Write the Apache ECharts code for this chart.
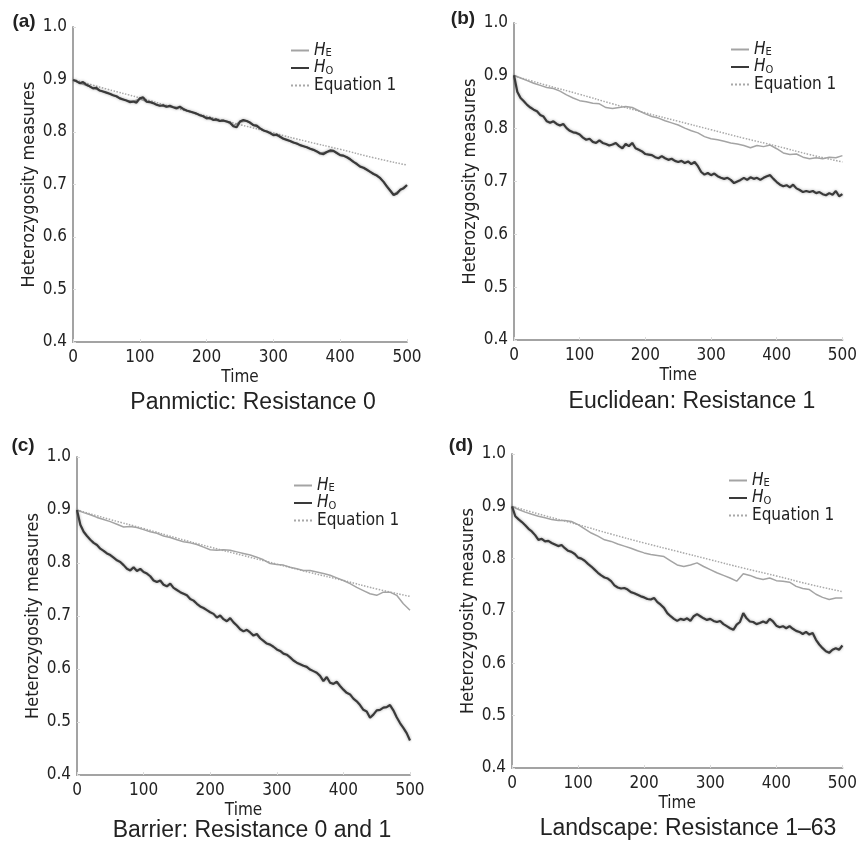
<!DOCTYPE html>
<html>
<head>
<meta charset="utf-8">
<script src="https://cdn.jsdelivr.net/npm/echarts@6/dist/echarts.min.js"></script>
<style>
  html, body { margin: 0; padding: 0; background: #fff; }
  #chart-container { width: 860px; height: 843px; }
</style>
</head>
<body>
<div id="chart-container"></div>
<script>
// time steps: HE read every 10, HO every 5, Equation 1 every 50
var heStep = 10;
var hoStep = 5;
var eqTime = [0, 50, 100, 150, 200, 250, 300, 350, 400, 450, 500];
var eqValues = [0.900, 0.882, 0.865, 0.847, 0.830, 0.814, 0.798, 0.782, 0.767, 0.751, 0.737];

var tickLabelsX = [0, 100, 200, 300, 400, 500];

var heA = [0.899, 0.893, 0.889, 0.884, 0.879, 0.875, 0.870, 0.865, 0.860, 0.858, 0.863,
  0.858, 0.855, 0.850, 0.848, 0.847, 0.847, 0.841, 0.837, 0.832, 0.827,
  0.823, 0.821, 0.820, 0.812, 0.819, 0.821, 0.813, 0.807, 0.801, 0.795,
  0.791, 0.785, 0.780, 0.775, 0.771, 0.766, 0.760, 0.762, 0.763, 0.756,
  0.752, 0.743, 0.734, 0.728, 0.720, 0.712, 0.697, 0.681, 0.690, 0.698];
var hoA = [0.899, 0.897, 0.893, 0.895, 0.890, 0.887, 0.883, 0.884, 0.879, 0.877,
  0.875, 0.873, 0.870, 0.868, 0.864, 0.862, 0.860, 0.857, 0.858, 0.856,
  0.864, 0.866, 0.858, 0.857, 0.855, 0.852, 0.850, 0.851, 0.848, 0.850,
  0.847, 0.845, 0.848, 0.844, 0.841, 0.839, 0.837, 0.835, 0.832, 0.830,
  0.826, 0.827, 0.823, 0.824, 0.821, 0.822, 0.820, 0.818, 0.811, 0.809,
  0.820, 0.823, 0.821, 0.818, 0.813, 0.812, 0.807, 0.803, 0.801, 0.798,
  0.794, 0.795, 0.791, 0.787, 0.785, 0.783, 0.780, 0.778, 0.775, 0.773,
  0.771, 0.768, 0.766, 0.763, 0.759, 0.758, 0.762, 0.765, 0.764, 0.760,
  0.756, 0.755, 0.752, 0.748, 0.743, 0.739, 0.734, 0.732, 0.728, 0.724,
  0.720, 0.717, 0.712, 0.705, 0.696, 0.688, 0.680, 0.683, 0.690, 0.693,
  0.699];

var heB = [0.901, 0.896, 0.891, 0.886, 0.882, 0.878, 0.876, 0.871, 0.864, 0.858, 0.853,
  0.851, 0.848, 0.847, 0.840, 0.838, 0.840, 0.842, 0.840, 0.834, 0.828,
  0.823, 0.820, 0.815, 0.811, 0.807, 0.801, 0.796, 0.792, 0.785, 0.781,
  0.779, 0.776, 0.773, 0.771, 0.768, 0.764, 0.768, 0.766, 0.769, 0.762,
  0.754, 0.751, 0.752, 0.746, 0.743, 0.745, 0.743, 0.746, 0.745, 0.749];
var hoB = [0.901, 0.870, 0.858, 0.852, 0.845, 0.840, 0.836, 0.833, 0.826, 0.823,
  0.814, 0.811, 0.814, 0.809, 0.806, 0.809, 0.801, 0.796, 0.793, 0.792,
  0.789, 0.783, 0.779, 0.781, 0.775, 0.773, 0.778, 0.773, 0.771, 0.768,
  0.770, 0.773, 0.767, 0.763, 0.771, 0.767, 0.773, 0.763, 0.760, 0.757,
  0.752, 0.751, 0.750, 0.746, 0.744, 0.748, 0.744, 0.741, 0.743, 0.739,
  0.737, 0.739, 0.735, 0.738, 0.733, 0.737, 0.729, 0.718, 0.713, 0.716,
  0.712, 0.715, 0.710, 0.707, 0.705, 0.707, 0.703, 0.697, 0.700, 0.703,
  0.707, 0.703, 0.708, 0.705, 0.707, 0.703, 0.707, 0.710, 0.712, 0.705,
  0.699, 0.694, 0.691, 0.693, 0.689, 0.694, 0.687, 0.684, 0.680, 0.682,
  0.680, 0.682, 0.678, 0.680, 0.676, 0.674, 0.678, 0.675, 0.682, 0.672,
  0.676];

var heC = [0.900, 0.895, 0.891, 0.886, 0.882, 0.878, 0.873, 0.868, 0.869, 0.867, 0.863,
  0.859, 0.856, 0.851, 0.848, 0.844, 0.840, 0.838, 0.835, 0.830, 0.825,
  0.824, 0.825, 0.824, 0.821, 0.818, 0.815, 0.811, 0.806, 0.799, 0.797,
  0.796, 0.792, 0.789, 0.786, 0.786, 0.783, 0.780, 0.777, 0.772, 0.767,
  0.761, 0.754, 0.748, 0.742, 0.739, 0.745, 0.745, 0.739, 0.723, 0.711];
var hoC = [0.900, 0.872, 0.859, 0.851, 0.844, 0.838, 0.834, 0.827, 0.823, 0.818,
  0.815, 0.810, 0.805, 0.802, 0.796, 0.789, 0.786, 0.792, 0.785, 0.789,
  0.783, 0.780, 0.775, 0.767, 0.764, 0.767, 0.759, 0.756, 0.761, 0.753,
  0.749, 0.745, 0.742, 0.739, 0.732, 0.729, 0.723, 0.718, 0.715, 0.711,
  0.707, 0.704, 0.697, 0.701, 0.694, 0.690, 0.696, 0.688, 0.682, 0.675,
  0.671, 0.674, 0.669, 0.663, 0.666, 0.658, 0.653, 0.648, 0.646, 0.642,
  0.637, 0.634, 0.629, 0.627, 0.622, 0.616, 0.612, 0.609, 0.606, 0.604,
  0.599, 0.596, 0.593, 0.587, 0.577, 0.585, 0.574, 0.572, 0.576, 0.568,
  0.561, 0.555, 0.552, 0.544, 0.539, 0.532, 0.523, 0.520, 0.508, 0.514,
  0.522, 0.523, 0.527, 0.528, 0.532, 0.522, 0.509, 0.498, 0.489, 0.479,
  0.465];

var heD = [0.900, 0.894, 0.889, 0.885, 0.881, 0.878, 0.875, 0.873, 0.873, 0.871, 0.865,
  0.857, 0.849, 0.843, 0.836, 0.833, 0.828, 0.824, 0.820, 0.815, 0.811,
  0.808, 0.806, 0.804, 0.796, 0.788, 0.785, 0.788, 0.792, 0.785, 0.779,
  0.773, 0.768, 0.763, 0.757, 0.771, 0.768, 0.763, 0.760, 0.763, 0.758,
  0.757, 0.755, 0.747, 0.743, 0.741, 0.732, 0.726, 0.722, 0.725, 0.725];
var hoD = [0.900, 0.881, 0.875, 0.870, 0.864, 0.857, 0.852, 0.845, 0.836, 0.838,
  0.833, 0.834, 0.830, 0.827, 0.824, 0.826, 0.820, 0.815, 0.813, 0.809,
  0.802, 0.800, 0.796, 0.790, 0.785, 0.779, 0.773, 0.768, 0.764, 0.762,
  0.757, 0.749, 0.745, 0.743, 0.744, 0.741, 0.736, 0.734, 0.731, 0.728,
  0.726, 0.723, 0.722, 0.725, 0.717, 0.712, 0.706, 0.696, 0.690, 0.685,
  0.681, 0.685, 0.683, 0.686, 0.681, 0.690, 0.694, 0.690, 0.686, 0.683,
  0.685, 0.681, 0.679, 0.681, 0.675, 0.671, 0.667, 0.664, 0.674, 0.679,
  0.696, 0.686, 0.680, 0.679, 0.675, 0.677, 0.680, 0.677, 0.685, 0.680,
  0.672, 0.669, 0.671, 0.667, 0.671, 0.666, 0.662, 0.660, 0.656, 0.660,
  0.655, 0.658, 0.645, 0.636, 0.629, 0.623, 0.620, 0.626, 0.629, 0.626,
  0.634];

var tags = ['(a)', '(b)', '(c)', '(d)'];
var titles = ['Panmictic: Resistance 0', 'Euclidean: Resistance 1',
  'Barrier: Resistance 0 and 1', 'Landscape: Resistance 1\u201363'];
var heSeries = [heA, heB, heC, heD];
var hoSeries = [hoA, hoB, hoC, hoD];

// layout per panel
var layout = [
  { grid: { left: 73, top: 27, width: 334, height: 315 }, legend: [290, 42], tag: [24, 22], title: [253, 403] },
  { grid: { left: 514, top: 23, width: 333, height: 317 }, legend: [730, 41], tag: [463, 19], title: [692, 402] },
  { grid: { left: 77, top: 457, width: 333, height: 318 }, legend: [293, 477], tag: [23, 446], title: [252, 831] },
  { grid: { left: 512, top: 454, width: 334, height: 314 }, legend: [728, 472], tag: [461, 446], title: [688, 829] }
];

var FONT = "'DejaVu Sans Condensed', 'DejaVu Sans', sans-serif";
var TITLE_FONT = "'Liberation Sans', Arial, sans-serif";
var NONE = 'rgba(0,0,0,0)';

function pairs(values, step) {
  return values.map(function (v, i) { return [i * step, v]; });
}

var grids = [], xAxes = [], yAxes = [], legends = [], series = [], graphics = [];

layout.forEach(function (p, i) {
  grids.push(p.grid);
  xAxes.push({
    gridIndex: i, type: 'value', min: 0, max: 500, interval: 100,
    name: 'Time', nameLocation: 'middle', nameGap: 27,
    nameTextStyle: { fontSize: 17, fontFamily: FONT, color: '#222' },
    axisLine: { lineStyle: { color: '#a3a3a3', width: 2 } },
    axisTick: { show: true, inside: true, length: 3, lineStyle: { color: '#dcdcdc' } },
    axisLabel: { fontSize: 17, fontFamily: FONT, color: '#222', margin: 7,
      formatter: function (v) { return tickLabelsX.indexOf(v) >= 0 ? String(v) : ''; } },
    splitLine: { show: false }
  });
  yAxes.push({
    gridIndex: i, type: 'value', min: 0.4, max: 1.0, interval: 0.1,
    name: 'Heterozygosity measures', nameLocation: 'middle', nameGap: 33,
    nameTextStyle: { fontSize: 18, fontFamily: FONT, color: '#222' },
    axisLine: { show: true, lineStyle: { color: '#a3a3a3', width: 2 } },
    axisTick: { show: true, inside: true, length: 3, lineStyle: { color: '#dcdcdc' } },
    axisLabel: { fontSize: 17, fontFamily: FONT, color: '#222', margin: 6,
      formatter: function (v) { return v.toFixed(1); } },
    splitLine: { show: false }
  });
  legends.push({
    left: p.legend[0], top: p.legend[1], orient: 'vertical',
    data: ['HE', 'HO', 'Equation 1'],
    itemWidth: 18, itemHeight: 10, itemGap: 0.5, padding: 0,
    selectedMode: false,
    itemStyle: { opacity: 0 },
    formatter: function (name) {
      if (name === 'HE') return '{i|H}{s|E}';
      if (name === 'HO') return '{i|H}{s|O}';
      return name;
    },
    textStyle: {
      fontSize: 17, fontFamily: FONT, color: '#222', lineHeight: 17,
      rich: {
        i: { fontSize: 17, fontFamily: FONT, fontStyle: 'italic', color: '#222', lineHeight: 17 },
        s: { fontSize: 11, fontFamily: FONT, color: '#222', lineHeight: 7, verticalAlign: 'bottom' }
      }
    }
  });
  series.push({
    name: 'HE', type: 'line', xAxisIndex: i, yAxisIndex: i, symbol: 'none', z: 3,
    data: pairs(heSeries[i], heStep),
    lineStyle: { color: '#a4a4a4', width: 1.5 }, itemStyle: { color: NONE }
  });
  series.push({
    name: 'HO', type: 'line', xAxisIndex: i, yAxisIndex: i, symbol: 'none', z: 4,
    data: pairs(hoSeries[i], hoStep),
    lineStyle: { color: '#3a3a3a', width: 2.2, shadowBlur: 3, shadowColor: 'rgba(0,0,0,0.35)' },
    itemStyle: { color: NONE }
  });
  series.push({
    name: 'Equation 1', type: 'line', xAxisIndex: i, yAxisIndex: i, symbol: 'none', z: 2,
    smooth: true,
    data: eqTime.map(function (t, k) { return [t, eqValues[k]]; }),
    lineStyle: { color: '#a8a8a8', width: 1.5, type: 'dotted' }, itemStyle: { color: NONE }
  });
  graphics.push({
    type: 'text', x: p.tag[0], y: p.tag[1],
    style: { text: tags[i], font: 'bold 19px ' + TITLE_FONT, fill: '#222', align: 'center', verticalAlign: 'middle' }
  });
  graphics.push({
    type: 'text', x: p.title[0], y: p.title[1],
    style: { text: titles[i], font: '23px ' + TITLE_FONT, fill: '#222', align: 'center', verticalAlign: 'middle' }
  });
});

var dom = document.getElementById('chart-container');
var myChart = echarts.init(dom, null, { renderer: 'canvas' });
var option = {
  backgroundColor: '#fff',
  animation: false,
  grid: grids,
  xAxis: xAxes,
  yAxis: yAxes,
  legend: legends,
  series: series,
  graphic: graphics
};
myChart.setOption(option);
window.addEventListener('resize', myChart.resize);
</script>
</body>
</html>
